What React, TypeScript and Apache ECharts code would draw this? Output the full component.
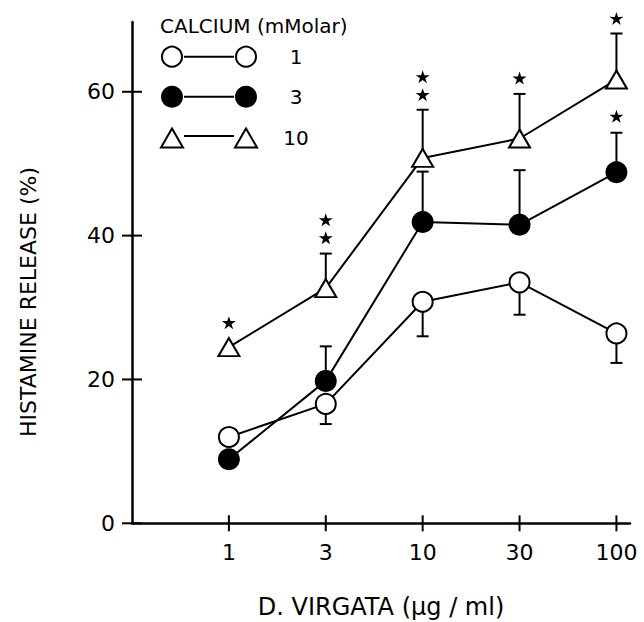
import React, { useEffect, useRef } from "react";
import * as echarts from "echarts";

// Dose categories (μg/ml), plotted at evenly spaced positions 1..5
const doses = ["1", "3", "10", "30", "100"];
// Histamine release (%) for each calcium concentration
const ca1 = [12.0, 16.6, 30.8, 33.5, 26.4];
const ca1Low = [null, 13.8, 26.0, 29.0, 22.3];
const ca3 = [8.9, 19.8, 41.9, 41.5, 48.8];
const ca3High = [null, 24.6, 48.9, 49.1, 54.3];
const ca10 = [24.5, 32.7, 50.8, 53.5, 61.7];
const ca10High = [null, 37.5, 57.5, 59.7, 68.1];
// Significance stars: [dose index, y position]
const stars: [number, number][] = [
  [0, 27.9],
  [1, 39.7],
  [1, 42.2],
  [2, 59.6],
  [2, 62.1],
  [3, 61.9],
  [4, 70.2],
  [4, 56.6],
];
const yTicks = [0, 20, 40, 60];
const legendTitle = "CALCIUM (mMolar)";
const legendLabels = ["1", "3", "10"];

const FONT = "DejaVu Sans";
const STAR =
  "path://M50 0 L61.17 34.63 L97.55 34.55 L68.07 55.87 L79.39 90.45 L50 69 L20.61 90.45 L31.93 55.87 L2.45 34.55 L38.83 34.63 Z";

function errData(mean: number[], bound: (number | null)[]) {
  const out: number[][] = [];
  mean.forEach((m, i) => {
    const b = bound[i];
    if (b !== null && b !== undefined) out.push([i + 1, m, b]);
  });
  return out;
}

const renderErr = (params: any, api: any) => {
  const x = api.value(0);
  const p0 = api.coord([x, api.value(1)]);
  const p1 = api.coord([x, api.value(2)]);
  const st = { stroke: "#000", lineWidth: 2 };
  return {
    type: "group",
    children: [
      { type: "line", shape: { x1: p0[0], y1: p0[1], x2: p1[0], y2: p1[1] }, style: st },
      { type: "line", shape: { x1: p1[0] - 6, y1: p1[1], x2: p1[0] + 6, y2: p1[1] }, style: st },
    ],
  };
};

export default function App() {
  const ref = useRef<HTMLDivElement>(null);
  useEffect(() => {
    if (!ref.current) return;
    const chart = echarts.init(ref.current, null, { renderer: "svg" });
    const lineStyle = { color: "#000", width: 2 };
    const legendRows = [56.7, 96.7, 138];
    const graphics: any[] = [
      {
        type: "text",
        left: 160,
        top: 16,
        style: { text: legendTitle, font: `20px "${FONT}"`, fill: "#000" },
      },
    ];
    legendRows.forEach((y, i) => {
      graphics.push({
        type: "line",
        shape: { x1: 184, y1: i === 2 ? y - 2 : y, x2: 234, y2: i === 2 ? y - 2 : y },
        style: { stroke: "#000", lineWidth: 2 },
      });
      [172, 246].forEach((cx) => {
        if (i < 2) {
          graphics.push({
            type: "circle",
            shape: { cx, cy: y, r: i === 0 ? 10 : 11 },
            style: { fill: i === 0 ? "#fff" : "#000", stroke: "#000", lineWidth: i === 0 ? 2 : 0 },
          });
        } else {
          graphics.push({
            type: "polygon",
            shape: { points: [[cx, y - 9.5], [cx + 11, y + 9.5], [cx - 11, y + 9.5]] },
            style: { fill: "#fff", stroke: "#000", lineWidth: 2 },
          });
        }
      });
      graphics.push({
        type: "text",
        x: 296,
        y,
        style: {
          text: legendLabels[i],
          font: `20px "${FONT}"`,
          fill: "#000",
          textAlign: "center",
          textVerticalAlign: "middle",
        },
      });
    });
    graphics.push({
      type: "text",
      x: 28,
      y: 302,
      rotation: Math.PI / 2,
      style: {
        text: "HISTAMINE RELEASE (%)",
        font: `22px "${FONT}"`,
        fill: "#000",
        textAlign: "center",
        textVerticalAlign: "middle",
      },
    });

    chart.setOption({
      animation: false,
      backgroundColor: "#fff",
      grid: {
        left: 132,
        right: 14,
        top: 22,
        bottom: 98.7,
        containLabel: false,
        outerBoundsMode: "none",
      },
      xAxis: {
        type: "value",
        min: 0,
        max: 5.14,
        interval: 1,
        name: "D. VIRGATA (μg / ml)",
        nameLocation: "middle",
        nameGap: 72,
        nameTextStyle: { fontFamily: FONT, fontSize: 24, color: "#000" },
        axisLine: { onZero: false, lineStyle: { color: "#000", width: 2.5 } },
        axisTick: { show: false },
        splitLine: { show: false },
        axisLabel: {
          margin: 18,
          fontFamily: FONT,
          fontSize: 22,
          color: "#000",
          showMaxLabel: false,
          formatter: (v: number) => doses[Math.round(v) - 1] ?? "",
        },
      },
      yAxis: {
        type: "value",
        min: 0,
        max: 69.7,
        interval: 20,
        axisLine: { show: true, lineStyle: { color: "#000", width: 2.5 } },
        axisTick: { show: false },
        splitLine: { show: false },
        axisLabel: {
          margin: 17,
          fontFamily: FONT,
          fontSize: 22,
          color: "#000",
          showMaxLabel: false,
          formatter: (v: number) => (yTicks.includes(v) ? String(v) : ""),
        },
      },
      graphic: graphics,
      series: [
        {
          type: "scatter",
          name: "yticks",
          clip: false,
          silent: true,
          symbol: "rect",
          symbolSize: [20, 2],
          itemStyle: { color: "#000", opacity: 1 },
          data: yTicks.map((v) => [0, v]),
          z: 5,
        },
        {
          type: "scatter",
          name: "xticks",
          clip: false,
          silent: true,
          symbol: "rect",
          symbolSize: [2, 16],
          itemStyle: { color: "#000", opacity: 1 },
          data: doses.map((_, i) => [i + 1, 0]),
          z: 5,
        },
        {
          type: "custom",
          clip: false,
          renderItem: renderErr,
          data: [...errData(ca1, ca1Low), ...errData(ca3, ca3High), ...errData(ca10, ca10High)],
          z: 1,
        },
        {
          type: "line",
          name: "1",
          data: ca1.map((v, i) => [i + 1, v]),
          symbol: "circle",
          symbolSize: 20,
          lineStyle,
          itemStyle: { color: "#fff", borderColor: "#000", borderWidth: 2 },
          z: 3,
        },
        {
          type: "line",
          name: "3",
          data: ca3.map((v, i) => [i + 1, v]),
          symbol: "circle",
          symbolSize: 22,
          lineStyle,
          itemStyle: { color: "#000", borderColor: "#000", borderWidth: 0 },
          z: 3,
        },
        {
          type: "line",
          name: "10",
          data: ca10.map((v, i) => [i + 1, v]),
          symbol: "triangle",
          symbolSize: [21, 18],
          lineStyle,
          itemStyle: { color: "#fff", borderColor: "#000", borderWidth: 2 },
          z: 3,
        },
        {
          type: "scatter",
          name: "stars",
          clip: false,
          symbol: STAR,
          symbolSize: [14, 13],
          itemStyle: { color: "#000", opacity: 1 },
          data: stars.map(([i, y]) => [i + 1, y]),
          z: 4,
        },
      ],
    });
    return () => chart.dispose();
  }, []);
  return (
    <div
      ref={ref}
      style={{ position: "fixed", left: 0, top: 0, width: 644, height: 622, background: "#fff" }}
    />
  );
}
